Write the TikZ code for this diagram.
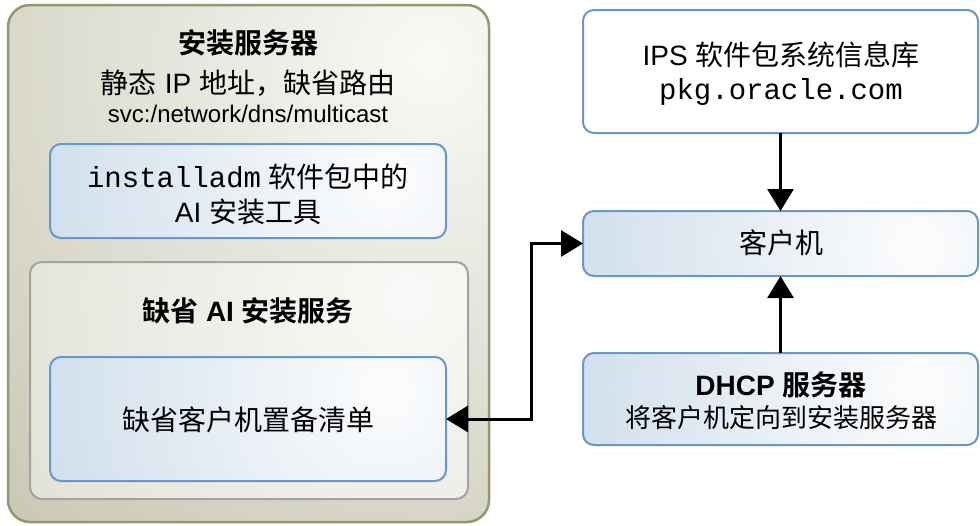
\documentclass[tikz,border=0pt]{standalone}
\usepackage{fontspec}
\setmainfont{Liberation Sans}
\setmonofont{Liberation Mono}
\newfontfamily\cjk{Noto Sans CJK SC}[BoldFont={Noto Sans CJK SC Bold}]
\usetikzlibrary{arrows.meta,fadings,calc}
\definecolor{blueedge}{RGB}{104,152,201}
\definecolor{bluefill}{RGB}{200,217,233}
\definecolor{oliveedge}{RGB}{150,150,112}
\definecolor{olivefill}{RGB}{199,198,178}
\definecolor{grayedge}{RGB}{162,162,160}
\definecolor{grayfill}{RGB}{228,227,218}
\tikzfading[name=glow, inner color=transparent!0, outer color=transparent!100]
\begin{document}
\begin{tikzpicture}[x=1pt,y=-1pt,
  every node/.style={inner sep=0pt, outer sep=0pt},
  glowpic/.style={path picture={\fill[white, fill opacity=#1, path fading=glow]
      ($(path picture bounding box.north east)+(-60,35)$) circle (420pt);}},
  bluebox/.style={draw=blueedge, line width=2pt, rounded corners=11pt, fill=bluefill, glowpic=0.95},
  whitebox/.style={draw=blueedge, line width=2pt, rounded corners=11pt, fill=white},
  graybox/.style={draw=grayedge, line width=2pt, rounded corners=12pt, fill=grayfill, glowpic=0.8},
  outerbox/.style={draw=oliveedge, line width=2.5pt, rounded corners=22pt, fill=olivefill,
    path picture={\fill[white, fill opacity=0.9, path fading=glow]
      ($(path picture bounding box.north east)+(-60,55)$) circle (660pt);}},
  txt/.style={font=\fontsize{28}{34}\selectfont},
  arr/.style={line width=3pt, >={Triangle[length=22pt,width=26pt]}}
]
\useasboundingbox (0,0) rectangle (980,525);

% left panel
\node[outerbox, minimum width=481pt, minimum height=517pt] (server) at (248.5,263.5) {};
\node[txt] (servertitle) at (248,43) {\cjk\bfseries 安装服务器};
\node[txt] (serverip) at (248,83) {{\cjk 静态} IP {\cjk 地址，缺省路由}};
\node[font=\fontsize{24}{28}\selectfont] (serversvc) at (248,114) {svc:/network/dns/multicast};

\node[bluebox, minimum width=396pt, minimum height=94pt] (tool) at (248,191) {};
\node[txt] (toolA) at (248,177) {{\ttfamily\fontsize{29}{34}\selectfont installadm} {\cjk 软件包中的}};
\node[txt] (toolB) at (248,212) {AI {\cjk 安装工具}};

\node[graybox, minimum width=438pt, minimum height=237pt] (service) at (249,380.5) {};
\node[txt] (servicetitle) at (248,311) {{\cjk\bfseries 缺省} \textbf{AI} {\cjk\bfseries 安装服务}};

\node[bluebox, minimum width=396pt, minimum height=124pt] (manifest) at (248,419) {};
\node[txt] (manifesttext) at (248,420) {\cjk 缺省客户机置备清单};

% right column
\node[whitebox, minimum width=395pt, minimum height=123pt] (ips) at (780.5,71.5) {};
\node[txt] (ipsA) at (781,55) {IPS {\cjk 软件包系统信息库}};
\node[font=\fontsize{29}{34}\selectfont\ttfamily] (ipsB) at (781,92) {pkg.oracle.com};

\node[bluebox, minimum width=395pt, minimum height=65pt] (client) at (780.5,243.5) {};
\node[txt] (clienttext) at (781,243) {\cjk 客户机};

\node[bluebox, minimum width=395pt, minimum height=92pt] (dhcp) at (780.5,399) {};
\node[txt] (dhcpA) at (781,385) {\textbf{DHCP} {\cjk\bfseries 服务器}};
\node[font=\fontsize{26}{30}\selectfont] (dhcpB) at (781,418) {\cjk 将客户机定向到安装服务器};

% connectors
\coordinate (bend) at (531,0);
\draw[arr,->] (ips) -- (client);
\draw[arr,->] (dhcp) -- (client);
\draw[arr,<->] (manifest.east) -- (manifest.east -| bend) |- (client.west);
\end{tikzpicture}
\end{document}
